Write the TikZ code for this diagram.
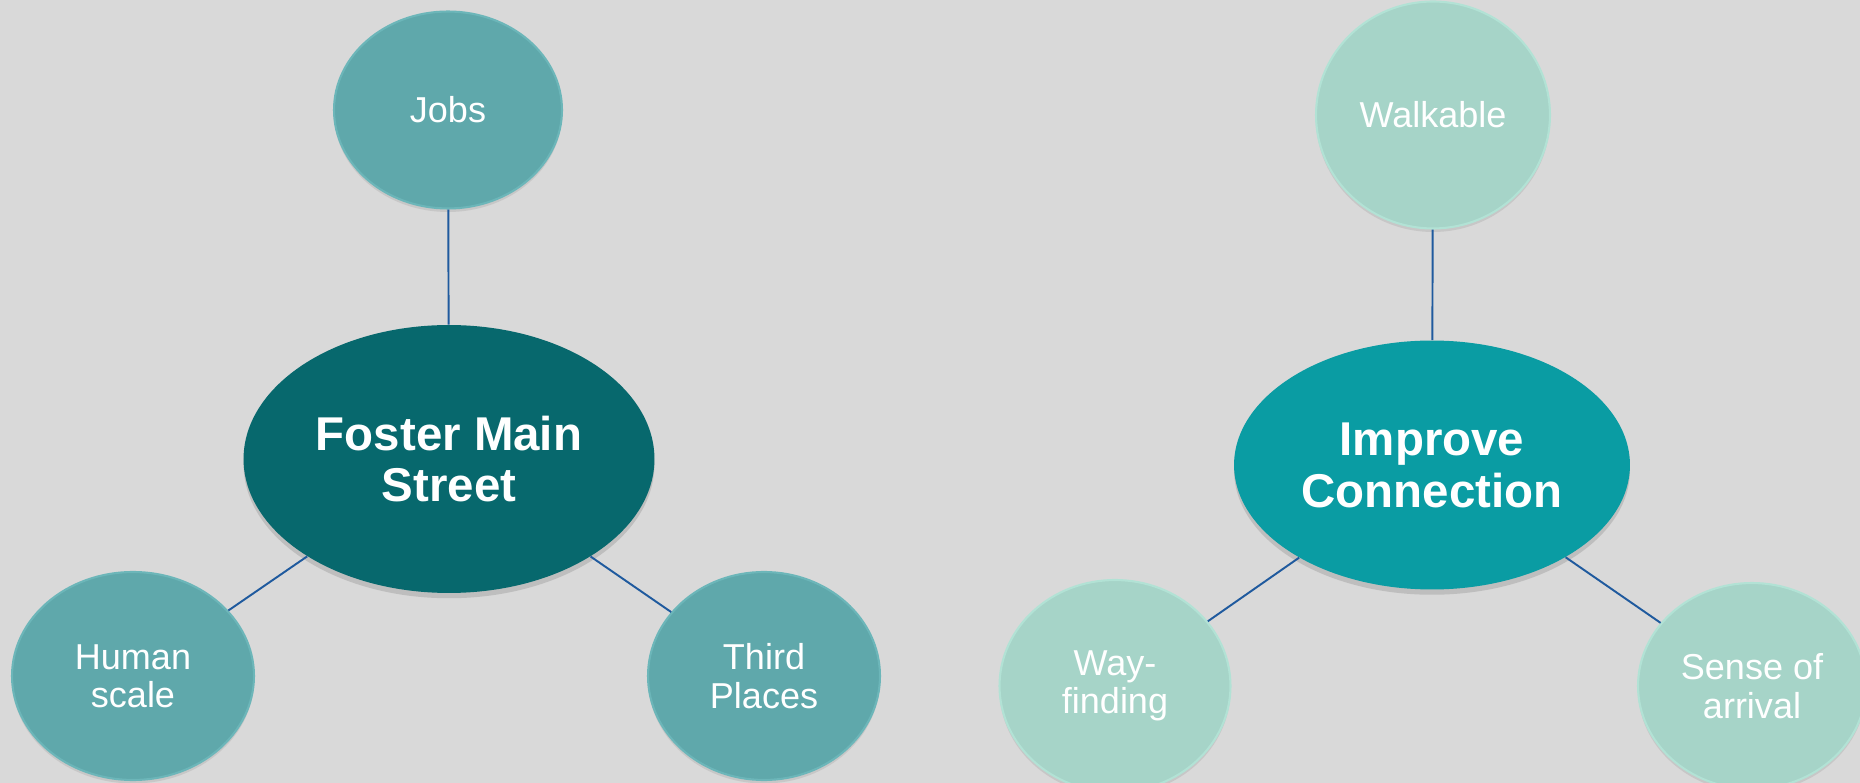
\documentclass[tikz,border=0pt]{standalone}
\usepackage{fontspec}
\setmainfont{Liberation Sans}
\usetikzlibrary{shapes.geometric,shadows}
\definecolor{bg}{HTML}{D9D9D9}
\definecolor{foster}{HTML}{07686D}
\definecolor{fostersub}{HTML}{5FA8AB}
\definecolor{fosteredge}{HTML}{6CB6B9}
\definecolor{improve}{HTML}{0A9CA3}
\definecolor{improvesub}{HTML}{A6D4C8}
\definecolor{improveedge}{HTML}{B2E2D5}
\definecolor{link}{HTML}{1F5A9E}
\tikzset{hub/.style={ellipse,inner sep=0pt,text=white,align=center,font=\fontsize{27}{29.5}\selectfont\bfseries,drop shadow={opacity=0.3,shadow xshift=0pt,shadow yshift=-3pt}}}
\tikzset{leaf/.style={ellipse,inner sep=0pt,text=white,align=center,line width=1.2pt,font=\fontsize{20.5}{21.8}\selectfont,drop shadow={opacity=0.2,shadow xshift=0pt,shadow yshift=-2pt}}}
\tikzset{fosterleaf/.style={leaf,fill=fostersub,draw=fosteredge}}
\tikzset{improveleaf/.style={leaf,fill=improvesub,draw=improveedge}}
\tikzset{link/.style={draw=link,line width=1.1pt}}

\begin{document}
\begin{tikzpicture}[x=0.02cm,y=-0.02cm]
    \fill[bg] (0,0) rectangle (1860,783);
    \useasboundingbox (0,0) rectangle (1860,783);

    % left group
    \node[hub,fill=foster,minimum width=8.22cm,minimum height=5.36cm] (foster) at (449,459)
    {Foster Main\\Street};

    \node[fosterleaf,minimum width=4.56cm,minimum height=3.94cm] (jobs) at (448,110) {Jobs};
    \node[fosterleaf,minimum width=4.84cm,minimum height=4.16cm] (human) at (133,676) {Human\\scale};
    \node[fosterleaf,minimum width=4.64cm,minimum height=4.16cm] (third) at (764,676) {Third\\Places};

    % right group
    \node[hub,fill=improve,minimum width=7.92cm,minimum height=4.98cm] (improve) at (1432,465)
    {Improve\\Connection};

    \node[improveleaf,minimum width=4.68cm,minimum height=4.54cm] (walk) at (1433,115) {Walkable};
    \node[improveleaf,minimum width=4.62cm,minimum height=4.24cm] (way) at (1115,686) {Way-\\finding};
    \node[improveleaf,minimum width=4.56cm,minimum height=4.12cm] (arrival) at (1752,686) {Sense of\\arrival};

    \draw[link] (jobs) -- (foster);
    \draw[link] (foster) -- (human);
    \draw[link] (foster) -- (third);

    \draw[link] (walk) -- (improve);
    \draw[link] (improve) -- (way);
    \draw[link] (improve) -- (arrival);

\end{tikzpicture}
\end{document}
